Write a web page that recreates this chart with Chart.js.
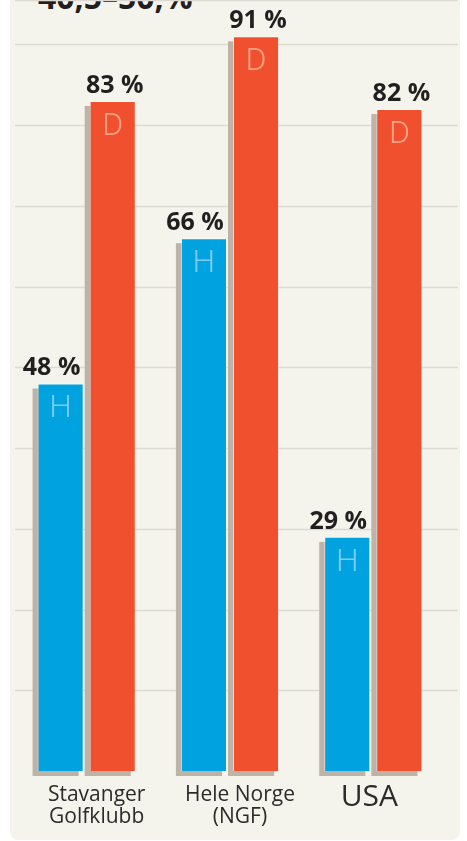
<!DOCTYPE html>
<html>
<head>
<meta charset="utf-8">
<script src="https://cdn.jsdelivr.net/npm/chart.js@4/dist/chart.umd.min.js"></script>
<style>
  html, body { margin: 0; padding: 0; background: #ffffff; }
  #wrap { position: relative; width: 467px; height: 841px; overflow: hidden; }
  #panel { position: absolute; left: 10px; top: -10px; width: 450px; height: 850px; background: #f5f4ec; border-radius: 8px; }
  #title { position: absolute; left: 38px; top: -19px; font: bold 32px "Open Sans", sans-serif; color: #231f20; line-height: 32px; white-space: nowrap; }
  #chart { position: absolute; left: 0; top: 0; }
</style>
</head>
<body>
<div id="wrap">
  <div id="panel"></div>
  <div id="title">40,5–50,%</div>
  <canvas id="chart" width="467" height="841"></canvas>
</div>
<script>
// Andel som er medlem / spiller: herrer (H) og damer (D)
const categories = [["Stavanger", "Golfklubb"], ["Hele Norge", "(NGF)"], ["USA"]];
const herrer = [48, 66, 29];
const damer = [83, 91, 82];
const seriesLetters = ["H", "D"];
const yMax = 95.5;
const yStep = 10;

const BLUE = "#00a3e0";
const RED = "#f0502e";
const SHADOW = "#bfb3a8";
const GRID = "#dcdad2";
const INK = "#231f20";

// gridlines across the whole panel, from the y scale ticks
const gridPlugin = {
  id: "panelGrid",
  beforeDatasetsDraw(chart) {
    const ctx = chart.ctx;
    const y = chart.scales.y;
    ctx.save();
    ctx.strokeStyle = GRID;
    ctx.lineWidth = 1.5;
    y.ticks.forEach((t) => {
      if (t.value === 0) return;
      const py = Math.round(y.getPixelForValue(t.value)) + 0.5;
      ctx.beginPath();
      ctx.moveTo(15, py);
      ctx.lineTo(458, py);
      ctx.stroke();
    });
    ctx.restore();
  },
};

// grey drop shadow behind each bar
const shadowPlugin = {
  id: "barShadow",
  beforeDatasetsDraw(chart) {
    const ctx = chart.ctx;
    ctx.save();
    ctx.fillStyle = SHADOW;
    chart.data.datasets.forEach((ds, i) => {
      chart.getDatasetMeta(i).data.forEach((bar) => {
        const w = bar.width;
        ctx.fillRect(bar.x - w / 2 - 5, bar.y + 5, w, bar.base - bar.y);
      });
    });
    ctx.restore();
  },
};

// value labels, H/D letters and category labels
const labelPlugin = {
  id: "barLabels",
  afterDatasetsDraw(chart) {
    const ctx = chart.ctx;
    const x = chart.scales.x;
    ctx.save();
    chart.data.datasets.forEach((ds, i) => {
      chart.getDatasetMeta(i).data.forEach((bar, j) => {
        const v = ds.data[j];
        ctx.fillStyle = INK;
        ctx.font = "bold 25px 'Open Sans', sans-serif";
        ctx.textAlign = "center";
        ctx.textBaseline = "alphabetic";
        const dx = i === 0 ? -9 : 2;
        ctx.fillText(v + " %", bar.x + dx, bar.y - 8);

        ctx.fillStyle = i === 0 ? "#7ccbf0" : "#f8a285";
        ctx.font = "300 32px Roboto, sans-serif";
        ctx.textBaseline = "alphabetic";
        ctx.fillText(seriesLetters[i], bar.x, bar.y + 34);
      });
    });

    ctx.fillStyle = "#2b2b2b";
    ctx.textAlign = "center";
    ctx.textBaseline = "alphabetic";
    const shift = [10, 10, -4];
    categories.forEach((lines, j) => {
      const cx = x.getPixelForValue(j) + shift[j];
      if (lines.length === 1) {
        ctx.font = "30px 'Open Sans', sans-serif";
        ctx.fillText(lines[0], cx, 806);
      } else {
        ctx.font = "21px 'Open Sans', sans-serif";
        lines.forEach((ln, k) => ctx.fillText(ln, cx, 801 + k * 22));
      }
    });
    ctx.restore();
  },
};

new Chart(document.getElementById("chart").getContext("2d"), {
  type: "bar",
  data: {
    labels: categories,
    datasets: [
      {
        label: "Herrer",
        data: herrer,
        backgroundColor: BLUE,
        borderColor: "rgba(255,255,255,0.55)",
        borderWidth: 1,
        categoryPercentage: 0.727,
        barPercentage: 0.885,
      },
      {
        label: "Damer",
        data: damer,
        backgroundColor: RED,
        borderColor: "rgba(255,255,255,0.55)",
        borderWidth: 1,
        categoryPercentage: 0.727,
        barPercentage: 0.885,
      },
    ],
  },
  options: {
    responsive: false,
    animation: false,
    layout: { padding: { left: 15, right: 22, top: 0, bottom: 70 } },
    plugins: {
      legend: { display: false },
      tooltip: { enabled: false },
    },
    scales: {
      x: { display: false },
      y: {
        display: false,
        min: 0,
        max: yMax,
        ticks: { stepSize: yStep },
      },
    },
  },
  plugins: [gridPlugin, shadowPlugin, labelPlugin],
});
</script>
</body>
</html>
